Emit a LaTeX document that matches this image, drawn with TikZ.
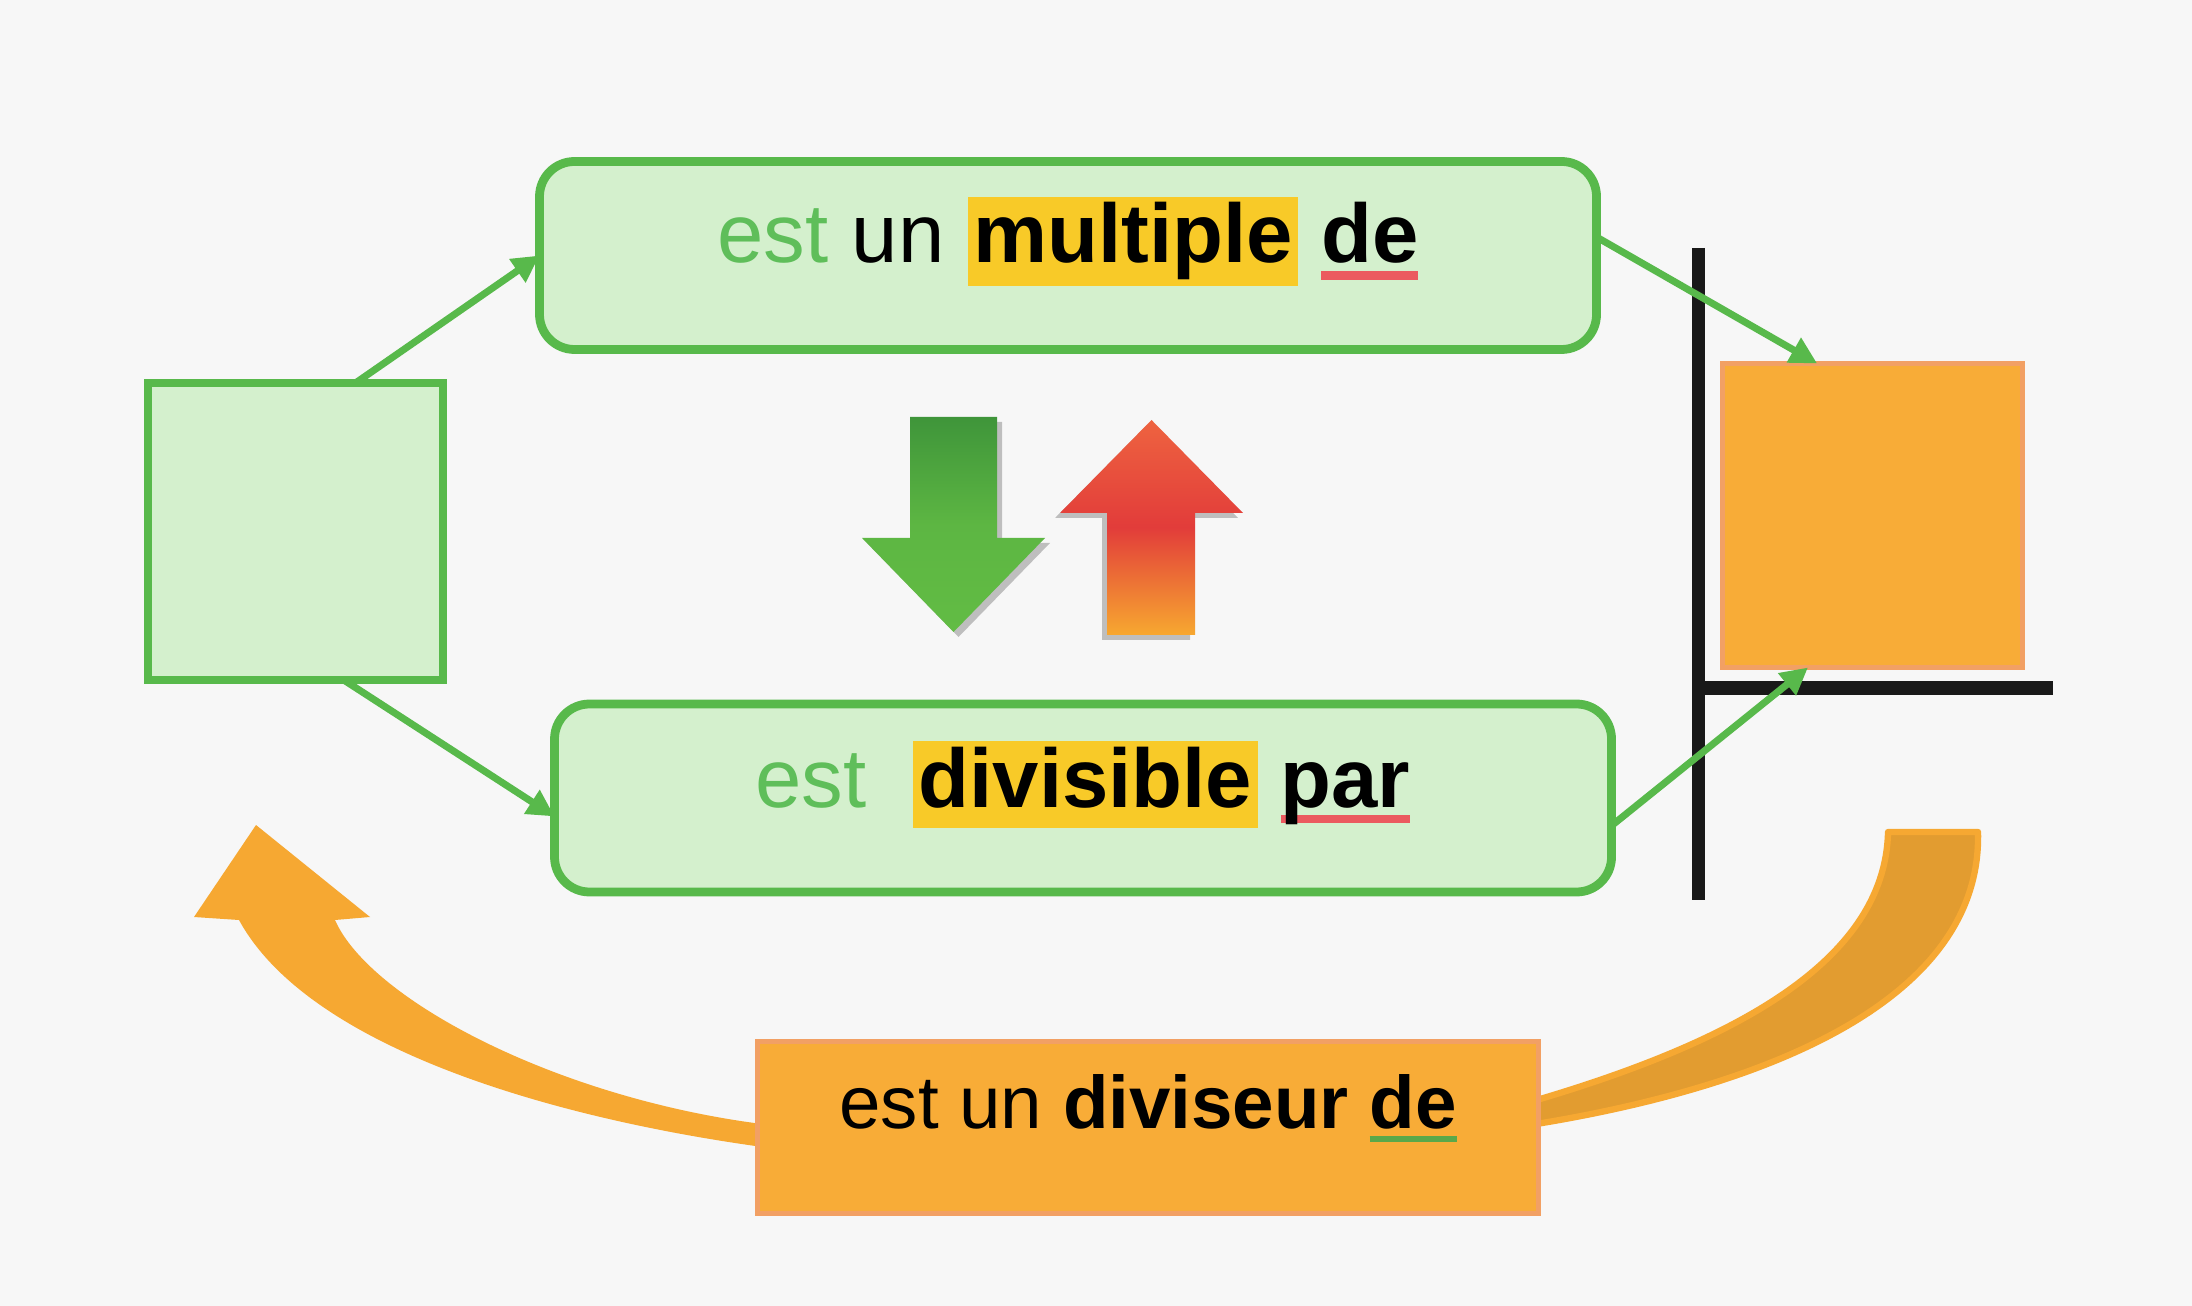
\documentclass[tikz,border=0pt]{standalone}
\usepackage{fontspec}
\setmainfont{Liberation Sans}
\usetikzlibrary{calc,arrows.meta}

\newcommand{\surligne}[1]{{\setlength{\fboxsep}{1.6pt}\colorbox{HL}{\rule[-4.4pt]{0pt}{20.1pt}\textbf{#1}}}}
\newcommand{\souligne}[4]{\leavevmode\setbox0=\hbox{#4}\rlap{\textcolor{#1}{\rule[#2]{\wd0}{#3}}}\box0}

\begin{document}
\begin{tikzpicture}[
    greenbox/.style={draw=GB, fill=GF, line width=2.5pt, rounded corners=0.35cm, inner sep=0pt, outer sep=0pt, minimum width=10.57cm, minimum height=1.88cm},
    greensq/.style={draw=GB, fill=GF, line width=2.3pt, inner sep=0pt, outer sep=0pt},
    orangebox/.style={draw=OB, fill=OF, line width=1.5pt, inner sep=0pt, outer sep=0pt},
    link/.style={draw=GB, line width=2pt, -{Triangle[length=0.27cm, width=0.27cm]}},
    bigtext/.style={anchor=base, inner sep=0pt, font=\fontsize{23.7}{28}\selectfont},
    ]
    \definecolor{GB}{HTML}{58B94B}
    \definecolor{GF}{HTML}{D4F0CD}
    \definecolor{GT}{HTML}{5FBE5A}
    \definecolor{HL}{HTML}{F8CA28}
    \definecolor{RU}{HTML}{EB5A5F}
    \definecolor{VU}{HTML}{5AA84A}
    \definecolor{OF}{HTML}{F8AC37}
    \definecolor{OB}{HTML}{F2A064}
    \definecolor{AO}{HTML}{F6A832}
    \definecolor{AD}{HTML}{E29C30}
    \definecolor{DT}{HTML}{3F953A}
    \definecolor{DB}{HTML}{62BC44}
    \definecolor{UT}{HTML}{EE6340}
    \definecolor{UM}{HTML}{E23C3A}
    \definecolor{UB}{HTML}{F7A830}

    \useasboundingbox (0,0) rectangle (21.92,-13.06);
    \path[fill=white!97!black] (0,0) rectangle (21.92,-13.06);

    \path[fill=AO] (7.70,-11.48) .. controls (5.60,-11.20) and (3.10,-10.50) .. (2.39,-9.20) -- (1.94,-9.17) -- (2.56,-8.25) -- (3.70,-9.17) -- (3.35,-9.20) .. controls (3.70,-10.00) and (5.60,-11.00) .. (7.70,-11.25) -- cycle;
    \path[fill=AD, draw=AO, line width=1.8pt, line join=round] (15.30,-11.25) .. controls (17.80,-10.85) and (19.82,-9.95) .. (19.78,-8.32) -- (18.88,-8.32) .. controls (18.85,-9.65) and (17.25,-10.45) .. (15.30,-11.02) -- cycle;

    \node[greenbox] (mult) at (10.68,-2.555) {};
    \node[greenbox] (div) at (10.83,-7.98) {};
    \node[greensq, minimum width=2.95cm, minimum height=2.97cm] (lsq) at (2.955,-5.315) {};
    \node[orangebox, minimum width=3.0cm, minimum height=3.04cm] (rsq) at (18.725,-5.155) {};
    \node[orangebox, minimum width=7.81cm, minimum height=1.72cm] (divr) at (11.48,-11.275) {};

    \node[bigtext] (multtxt) at ($ (mult.center) + (0,-0.075) $) {\textcolor{GT}{est} un \surligne{multiple} \souligne{RU}{-4.8pt}{2.5pt}{\textbf{de}}};
    \node[bigtext] (divtxt) at ($ (div.center) + (0,-0.09) $) {\textcolor{GT}{est}\ \ \surligne{divisible} \souligne{RU}{-4.6pt}{2.3pt}{\textbf{par}}};
    \node[bigtext, font=\fontsize{21.2}{26}\selectfont] (divrtxt) at ($ (divr.center) + (0,-0.005) $) {est un \textbf{diviseur} \souligne{VU}{-4pt}{1.8pt}{\textbf{de}}};

    \path[fill=black!35, opacity=0.7] (9.15,-4.22) -- (10.02,-4.22) -- (10.02,-5.43) -- (10.50,-5.43) -- (9.585,-6.37) -- (8.67,-5.43) -- (9.15,-5.43) -- cycle;
    \shade[top color=DT, bottom color=DB, middle color=DB!85!DT] (9.10,-4.17) -- (9.97,-4.17) -- (9.97,-5.38) -- (10.45,-5.38) -- (9.535,-6.32) -- (8.62,-5.38) -- (9.10,-5.38) -- cycle;
    \path[fill=black!35, opacity=0.7] (11.02,-6.40) -- (11.90,-6.40) -- (11.90,-5.18) -- (12.38,-5.18) -- (11.47,-4.25) -- (10.55,-5.18) -- (11.02,-5.18) -- cycle;
    \shade[top color=UT, bottom color=UB, middle color=UM] (11.07,-6.35) -- (11.95,-6.35) -- (11.95,-5.13) -- (12.43,-5.13) -- (11.515,-4.20) -- (10.60,-5.13) -- (11.07,-5.13) -- cycle;

    \path[draw=black!90, line width=3.7pt] (16.98,-2.48) -- (16.98,-9.00);
    \path[draw=black!90, line width=3.9pt] (16.93,-6.88) -- (20.53,-6.88);

    \path[link] (lsq.68) -- (mult.west);
    \path[link] (lsq.-72) -- (div.182);
    \path[link] (mult.2) -- (rsq.110);
    \path[link] (div.-3) -- (rsq.247);

\end{tikzpicture}
\end{document}
